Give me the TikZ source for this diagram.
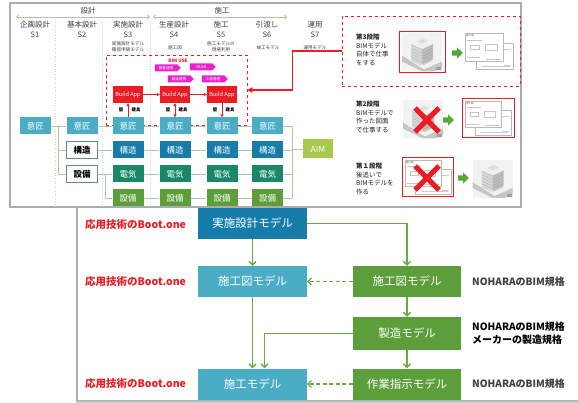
\documentclass[tikz,border=0pt]{standalone}
\usepackage{fontspec}
\setmainfont{Noto Sans CJK JP}
\usetikzlibrary{arrows.meta,shapes.symbols}

\definecolor{aqua}{RGB}{75,172,198}
\definecolor{deepblue}{RGB}{22,125,170}
\definecolor{seagreen}{RGB}{24,136,104}
\definecolor{leaf}{RGB}{92,158,58}
\definecolor{linkgreen}{RGB}{106,170,70}
\definecolor{panelgray}{RGB}{172,172,172}
\definecolor{hotred}{RGB}{234,28,36}
\definecolor{tagpink}{RGB}{232,34,204}
\definecolor{aimgreen}{RGB}{168,200,78}
\definecolor{thinlink}{RGB}{168,204,160}
\definecolor{inkgray}{RGB}{64,64,64}
\definecolor{pushgreen}{RGB}{84,168,52}
\definecolor{cellrim}{RGB}{95,140,150}

\newcommand{\fs}[2]{\fontsize{#1}{#2}\selectfont}

\tikzset{
  cell/.style={minimum width=31pt, minimum height=17pt, inner sep=0pt, text=white, font=\fs{8.5}{9}},
  cellw/.style={cell, fill=white, draw=cellrim, line width=.8pt, text=black, font=\bfseries\fs{8.5}{9}},
  link/.style={draw=thinlink, line width=.9pt},
  col/.style={inner sep=0pt, text=inkgray, font=\fs{7.5}{8}},
  subl/.style={inner sep=0pt, text=inkgray, font=\fs{4.6}{6}, align=center},
  app/.style={fill=hotred, minimum width=30pt, minimum height=17pt, inner sep=0pt, text=white, font=\fs{5.6}{6}},
  redarrow/.style={draw=hotred, line width=.8pt, -{Triangle[length=3pt,width=3.2pt]}},
  tag/.style={shape=signal, signal to=east, fill=tagpink, text=white, minimum width=26pt, minimum height=7pt, inner sep=.6pt, font=\fs{3.6}{4}},
  tiny/.style={inner sep=0pt, font=\bfseries\fs{4.4}{5}},
  stage/.style={inner sep=0pt, align=left, text=black!85, font=\fs{6.5}{8.7}, anchor=north west},
  frame/.style={draw=hotred, line width=1pt, fill=white, inner sep=0pt},
  model/.style={minimum width=109pt, minimum height=31pt, inner sep=0pt, text=white, font=\fs{11.5}{12}},
  flow/.style={draw=linkgreen, line width=1.3pt, -{Straight Barb[length=3.5pt,width=7pt]}},
  backflow/.style={flow, line width=1.1pt, dash pattern=on 4pt off 2.5pt},
  boot/.style={inner sep=0pt, anchor=west, text=hotred, font=\bfseries\fs{10.5}{12}},
  norm/.style={inner sep=0pt, anchor=west, align=left, font=\bfseries\fs{10}{13}},
  % isometric building model on a road
  bldg/.pic={
    \fill[gray!10] (-20,-19) rectangle (20,19);
    \fill[gray!45] (-20,3) -- (-20,9) -- (0,19) -- (12,19) -- (20,15) -- (20,9) -- (2,17) -- cycle;
    \fill[gray!12] (-11,-8) -- (0,-13) -- (11,-8) -- (0,-3) -- cycle;
    \fill[gray!32] (-11,-8) -- (0,-3) -- (0,12) -- (-11,7) -- cycle;
    \fill[gray!52] (0,-3) -- (11,-8) -- (11,7) -- (0,12) -- cycle;
    \fill[gray!25] (-5,-11) -- (1,-14) -- (6,-11.5) -- (0,-8.5) -- cycle;
    \foreach \k in {0,3,6,9,12}{
      \draw[gray!60, line width=.3pt] (-10,-4+\k) -- (-1,0.5+\k);
      \draw[gray!70, line width=.3pt] (1,0.5+\k) -- (10,-4+\k);
    }
    \draw[gray!65, line width=.3pt] (-11,-8) -- (0,-3) -- (11,-8) (0,-3) -- (0,12);
    \fill[gray!75] (14,15) rectangle (19,18);
  },
  % two overlapping drawing sheets
  sheets/.pic={
    \draw[gray!55, fill=white, line width=.3pt] (-12,-8) rectangle (25,18);
    \draw[gray!55, fill=white, line width=.3pt] (-23,-18) rectangle (15,10);
    \node[inner sep=0pt, text=gray!70!black, font=\fs{2.6}{3}] at (-18,-15) {施工図};
    \draw[gray!45, line width=.3pt] (-21,-11) -- (-6,-11) (-18,-6) rectangle (-9,-2) (-3,-7) rectangle (9,-1)
      (-21,6) -- (-8,6) (-2,8) -- (13,8);
    \draw[gray!40, line width=.3pt] (16,-2) -- (23,-2) (16,14) -- (23,14) (-6,15) -- (22,15);
  },
  % red cross
  nope/.pic={
    \draw[hotred, line width=5pt] (-12,-12) -- (12,12) (-12,12) -- (12,-12);
  },
  % green block arrow
  push/.pic={
    \fill[pushgreen] (-5,-2.6) -- (0,-2.6) -- (0,-5.6) -- (6,0) -- (0,5.6) -- (0,2.6) -- (-5,2.6) -- cycle;
  }
}

\begin{document}
\begin{tikzpicture}[x=1pt, y=-1pt]
\useasboundingbox (0,0) rectangle (578,403);
\fill[white] (0,0) rectangle (578,403);

% ---------- upper panel ----------
\draw[panelgray, line width=1.2pt] (10,3) rectangle (521,207);

% phase header
\node[col] (hd1) at (88,11) {設計};
\node[col] (hd2) at (222,11) {施工};
\coordinate (h1l) at (16,17);  \coordinate (h1r) at (150,17);
\coordinate (h2l) at (153,17); \coordinate (h2r) at (287,17);
\draw[thinlink, line width=.8pt, {Straight Barb[length=2pt,width=4pt]}-{Straight Barb[length=2pt,width=4pt]}] (h1l) -- (h1r);
\draw[thinlink, line width=.8pt, {Straight Barb[length=2pt,width=4pt]}-{Straight Barb[length=2pt,width=4pt]}] (h2l) -- (h2r);

% stage separators
\foreach \x in {55,102,150}{
  \draw[gray!35, line width=.6pt, dotted] (\x,22) -- (\x,206);
}

% stage names
\node[col] (c1) at (35,25) {企画設計};  \node[col] (n1) at (35,35) {S1};
\node[col] (c2) at (82,25) {基本設計};  \node[col] (n2) at (82,35) {S2};
\node[col] (c3) at (128,25) {実施設計}; \node[col] (n3) at (128,35) {S3};
\node[col] (c4) at (174,25) {生産設計}; \node[col] (n4) at (174,35) {S4};
\node[col] (c5) at (221,25) {施工};     \node[col] (n5) at (221,35) {S5};
\node[col] (c6) at (267,25) {引渡し};   \node[col] (n6) at (267,35) {S6};
\node[col] (c7) at (315,25) {運用};     \node[col] (n7) at (315,35) {S7};

\node[subl] (m3) at (128,47) {実施設計モデル\\確認申請モデル};
\node[subl] (m4) at (175,48) {施工図};
\node[subl] (m5) at (221,47) {施工モデルの\\現場利用};
\node[subl] (m6) at (268,48) {竣工モデル};
\node[subl] (m7) at (315,48) {運用モデル};

% BIM USE area
\node[draw=hotred, dashed, line width=.7pt, minimum width=141pt, minimum height=70pt, inner sep=0pt] (bimuse) at (176.5,90) {};
\node[inner sep=0pt, text=hotred, font=\bfseries\fs{4.6}{5}] (bimlbl) at (178,61) {BIM USE};
\node[tag] (u1) at (166,68) {数量連携};
\node[tag] (u2) at (201,67) {VR/AR};
\node[tag] (u3) at (179,79) {製造連携};
\node[tag] (u4) at (213,79) {工程管理};

% model cells
\node[cell, fill=aqua] (i1) at (35.5,126) {意匠};
\node[cell, fill=aqua] (i2) at (82,126) {意匠};
\node[cellw] (k2) at (82,150) {構造};
\node[cellw] (s2) at (82,174) {設備};
\foreach \n/\x in {3/128,4/175,5/222,6/267.5}{
  \node[cell, fill=aqua]     (i\n) at (\x,126) {意匠};
  \node[cell, fill=deepblue] (k\n) at (\x,150) {構造};
  \node[cell, fill=seagreen] (d\n) at (\x,174) {電気};
  \node[cell, fill=leaf]     (e\n) at (\x,198) {設備};
}
\node[cell, fill=aimgreen, minimum width=30pt, minimum height=19pt] (aim) at (318,149) {AIM};

% model links
\coordinate (sp1) at (58,126);
\coordinate (sp2) at (105,174);
\coordinate (bt) at (292,126);
\coordinate (bb) at (292,198);
\draw[link] (i1) -- (i2);
\draw[link] (sp1) |- (k2.west);
\draw[link] (sp1) |- (s2.west);
\draw[link] (i2) -- (i3) -- (i4) -- (i5) -- (i6) -- (bt);
\draw[link] (k2) -- (k3) -- (k4) -- (k5) -- (k6) -- (k6 -| bt);
\draw[link] (s2) -- (d3) -- (d4) -- (d5) -- (d6) -- (d6 -| bt);
\draw[link] (sp2) |- (e3.west);
\draw[link] (e3) -- (e4) -- (e5) -- (e6) -- (bb);
\draw[link] (bt) -- (bb);
\draw[link] (aim -| bt) -- (aim);

% build apps
\node[app] (b1) at (128,94.5) {Build App};
\node[app] (b2) at (175,94.5) {Build App};
\node[app] (b3) at (222,94.5) {Build App};
\draw[redarrow] (b1) -- (b2);
\draw[redarrow] (b2) -- (b3);
\draw[redarrow] (i3) -- (b1);
\draw[redarrow, {Triangle[length=3pt,width=3.2pt]}-{Triangle[length=3pt,width=3.2pt]}] (i4) -- (b2);
\draw[redarrow] (b3) -- (i5);
\foreach \n/\x in {1/128,2/175,3/222}{
  \node[tiny] (w\n) at (\x-7,110) {壁};
  \node[tiny] (t\n) at (\x+8,110) {建具};
}

% ---------- maturity stages ----------
\node[draw=hotred, dashed, line width=.7pt, minimum width=178pt, minimum height=70pt, inner sep=0pt] (st3) at (431,51) {};
\draw[hotred, line width=1.5pt, -{Triangle[length=5pt,width=5.5pt]}] (st3.west) -- ++(-49,0) |- (bimuse.east);

\node[stage] (tx3) at (356,33.5) {\textbf{第3段階}\\BIMモデル\\自体で仕事\\をする};
\node[frame, minimum width=46pt, minimum height=41pt] (f3) at (422,52.5) {};
\pic at (f3.center) {bldg};
\pic at (457,53) {push};
\pic at (488,51) {sheets};

\node[stage] (tx2) at (356,100.5) {\textbf{第2段階}\\BIMモデルで\\作った図面\\で仕事する};
\pic at (423,119.5) {bldg};
\node[frame, minimum width=52pt, minimum height=39pt] (f2) at (488,118.5) {};
\pic[scale=.95] at (487,118) {sheets};
\pic at (448,120) {push};
\pic at (427,120) {nope};

\node[stage] (tx1) at (356,162.5) {\textbf{第１段階}\\後追いで\\BIMモデルを\\作る};
\node[frame, minimum width=51pt, minimum height=39pt] (f1) at (427.5,177.5) {};
\pic[scale=.95] at (427,177) {sheets};
\pic at (427,178) {nope};
\pic at (463,178) {push};
\pic at (492.5,179) {bldg};

% ---------- lower panel ----------
\fill[white] (77,207.8) rectangle (580,401);
\draw[panelgray, line width=1.4pt] (77,207) -- (77,401) -- (580,401);
\draw[gray!45, line width=2.5pt] (77,402) -- (580,402);

\node[model, fill=deepblue] (jm) at (252.5,223.5) {実施設計モデル};
\node[model, fill=aqua] (szl) at (252.5,281.5) {施工図モデル};
\node[model, fill=aqua] (skl) at (252.5,384) {施工モデル};
\node[model, fill=leaf, minimum width=108pt] (szr) at (407,281.5) {施工図モデル};
\node[model, fill=leaf, minimum width=108pt, minimum height=33pt] (mfg) at (407,333.5) {製造モデル};
\node[model, fill=leaf, minimum width=108pt] (wrk) at (407,384) {作業指示モデル};

\draw[flow] (jm) -- (szl);
\draw[flow] (jm.east) -| (szr.north);
\draw[flow] (szl) -- (skl);
\draw[flow] (mfg.west) -| ([xshift=12pt]skl.north);
\draw[flow] (szr) -- (mfg);
\draw[flow] (mfg) -- (wrk);
\draw[backflow] (szr) -- (szl);
\draw[backflow] (wrk) -- (skl);

\node[boot] (bt1) at (85,224.5) {応用技術のBoot.one};
\node[boot] (bt2) at (85,282) {応用技術のBoot.one};
\node[boot] (bt3) at (85,384) {応用技術のBoot.one};

\node[norm, text=inkgray] (nr1) at (472,282) {NOHARAのBIM規格};
\node[norm, text=black] (nr2) at (472,333.5) {NOHARAのBIM規格\\メーカーの製造規格};
\node[norm, text=inkgray] (nr3) at (472,384) {NOHARAのBIM規格};
\end{tikzpicture}
\end{document}
